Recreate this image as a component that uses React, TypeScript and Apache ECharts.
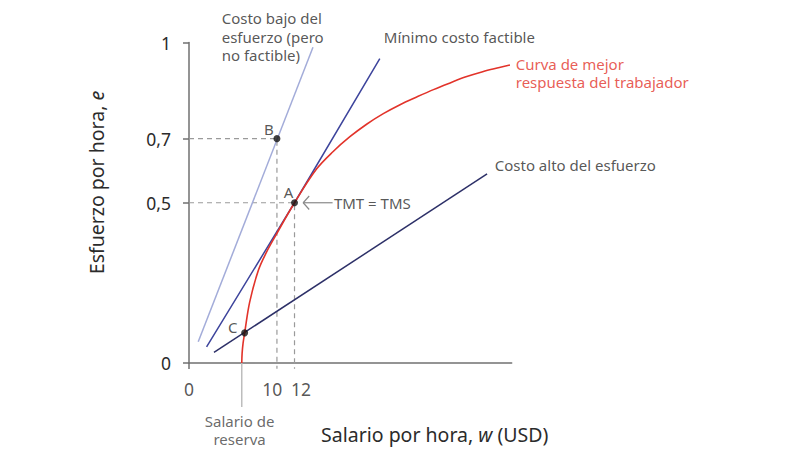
import React, { useEffect, useRef } from 'react';
import * as echarts from 'echarts';

const FONT = '"Noto Sans", "Open Sans", sans-serif';
const TEXT = '#2b2b2b';
const AXIS = '#707070';

// ticks
const xTicks = [0, 10, 12];
const xTickShift = [0, -4.7, 6.5];
const yTicks = [0, 0.5, 0.7, 1];

// curva de mejor respuesta (w, e)
const bestResponseW = [6, 6.04, 6.15, 6.33, 6.9, 7.9, 8.8, 9.8, 12, 14.5, 16.4, 18.3, 20.2, 22.1, 24, 25.9, 27.8, 29.7, 31.5, 33.4, 35.3, 36.5];
const bestResponseE = [0, 0.03, 0.062, 0.094, 0.19, 0.29, 0.345, 0.395, 0.5, 0.605, 0.66, 0.706, 0.745, 0.778, 0.806, 0.83, 0.853, 0.874, 0.893, 0.909, 0.922, 0.93];

// rectas de isocosto
const lowCostLine = [[1.05, 0.066], [14.1, 0.985]];
const minCostLine = [[2.0, 0.05], [12, 0.5], [21.7, 0.95]];
const highCostLine = [[2.84, 0.033], [33.9, 0.59]];

// guías punteadas (bajan hasta cruzar el eje como marca)
const guideB = [[0, 0.7], [10, 0.7], [10, -0.018]];
const guideA = [[0, 0.5], [12, 0.5], [12, -0.018]];

// salario de reserva
const reserveLine = [[6, 0], [6, -0.137]];

// flecha TMT = TMS
const arrowShaft = [[16.33, 0.5], [12.99, 0.5]];
const arrowHead = [[13.67, 0.521], [12.99, 0.5], [13.67, 0.479]];

const points = [
  { name: 'A', value: [12, 0.5], offset: [-6, -11] },
  { name: 'B', value: [10, 0.7], offset: [-8, -10] },
  { name: 'C', value: [6.33, 0.094], offset: [-12, -6] },
];

const notes = [
  { text: 'Costo bajo del\nesfuerzo (pero\nno factible)', at: [3.72, 1.018], color: TEXT, pos: 'right' },
  { text: 'Mínimo costo factible', at: [22.16, 1.018], color: TEXT, pos: 'right' },
  { text: 'Curva de mejor\nrespuesta del trabajador', at: [37.16, 0.905], color: '#e2332a', pos: 'right' },
  { text: 'Costo alto del esfuerzo', at: [34.77, 0.618], color: TEXT, pos: 'right' },
  { text: 'TMT = TMS', at: [16.48, 0.5], color: TEXT, pos: 'right' },
  { text: 'Salario de\nreserva', at: [5.75, -0.209], color: '#444444', pos: 'inside' },
];

const App: React.FC = () => {
  const chartRef = useRef<HTMLDivElement>(null);

  useEffect(() => {
    if (!chartRef.current) return;
    const chart = echarts.init(chartRef.current, null, { renderer: 'svg' });

    const lineSeries = (data: number[][], color: string, width: number, extra: any = {}) => ({
      type: 'line',
      data,
      symbol: 'none',
      clip: false,
      silent: true,
      lineStyle: { color, width, ...extra },
      z: 3,
    });

    const option = {
      animation: false,
      textStyle: { fontFamily: FONT },
      grid: { left: 189, top: 42.5, width: 322.7, height: 320.5 },
      xAxis: {
        type: 'value',
        min: 0,
        max: 36.7,
        axisLine: { show: true, lineStyle: { color: AXIS, width: 1.5 } },
        axisTick: { show: true, customValues: [0], length: 6, lineStyle: { color: AXIS, width: 1.5 } },
        axisLabel: { show: false },
        splitLine: { show: false },
      },
      yAxis: {
        type: 'value',
        min: 0,
        max: 1,
        axisLine: { show: true, lineStyle: { color: AXIS, width: 1.5 } },
        axisTick: { show: true, customValues: yTicks, length: 6, lineStyle: { color: AXIS, width: 1.5 } },
        axisLabel: {
          customValues: yTicks,
          hideOverlap: false,
          margin: 18,
          fontSize: 17.5,
          color: TEXT,
          fontFamily: FONT,
          formatter: (v: number) => String(v).replace('.', ','),
        },
        splitLine: { show: false },
      },
      graphic: [
        {
          type: 'text',
          x: 96.7,
          y: 182.5,
          rotation: Math.PI / 2,
          style: {
            text: 'Esfuerzo por hora, {i|e}',
            fill: TEXT,
            font: `19.5px ${FONT}`,
            align: 'center',
            verticalAlign: 'middle',
            rich: { i: { fontStyle: 'italic', fontSize: 19.5, fontFamily: FONT, fill: TEXT } },
          },
        },
        {
          type: 'text',
          x: 434.7,
          y: 434.3,
          style: {
            text: 'Salario por hora, {i|w} (USD)',
            fill: TEXT,
            font: `19.5px ${FONT}`,
            align: 'center',
            verticalAlign: 'middle',
            rich: { i: { fontStyle: 'italic', fontSize: 19.5, fontFamily: FONT, fill: TEXT } },
          },
        },
      ],
      series: [
        lineSeries(guideB, '#9a9a9a', 1.2, { type: [5, 4] }),
        lineSeries(guideA, '#9a9a9a', 1.2, { type: [5, 4] }),
        lineSeries(reserveLine, '#bdbdbd', 1.5),
        lineSeries(lowCostLine, '#a3acd9', 1.5),
        lineSeries(minCostLine, '#3d449c', 1.5),
        lineSeries(highCostLine, '#2d3068', 1.5),
        {
          ...lineSeries(bestResponseW.map((w, i) => [w, bestResponseE[i]]), '#e2332a', 1.6),
          smooth: 0.35,
        },
        lineSeries(arrowShaft, '#8a8a8a', 1.2),
        lineSeries(arrowHead, '#8a8a8a', 1.2),
        {
          type: 'scatter',
          silent: true,
          clip: false,
          z: 5,
          symbolSize: 7,
          itemStyle: { color: '#111111' },
          data: points.map(p => ({
            name: p.name,
            value: p.value,
            label: {
              show: true,
              position: 'inside',
              offset: p.offset,
              formatter: p.name,
              fontSize: 15,
              color: TEXT,
              fontFamily: FONT,
            },
          })),
        },
        {
          // etiquetas del eje horizontal
          type: 'scatter',
          silent: true,
          clip: false,
          symbolSize: 0,
          z: 6,
          data: xTicks.map((v, i) => ({
            value: [v, 0],
            label: {
              show: true,
              position: 'bottom',
              distance: 17,
              offset: [xTickShift[i], 0],
              formatter: String(v),
              fontSize: 17.5,
              color: TEXT,
              fontFamily: FONT,
            },
          })),
        },
        {
          type: 'scatter',
          silent: true,
          clip: false,
          symbolSize: 0,
          z: 6,
          data: notes.map(n => ({
            value: n.at,
            label: {
              show: true,
              position: n.pos,
              distance: 0,
              formatter: n.text,
              fontSize: 15,
              lineHeight: 18.5,
              color: n.color,
              fontFamily: FONT,
              align: n.pos === 'inside' ? 'center' : 'left',
            },
          })),
        },
      ],
    };

    chart.setOption(option as any);
    return () => {
      chart.dispose();
    };
  }, []);

  return (
    <div
      ref={chartRef}
      style={{ position: 'absolute', left: 0, top: 0, width: 810, height: 458, background: '#fff' }}
    />
  );
};

export default App;
